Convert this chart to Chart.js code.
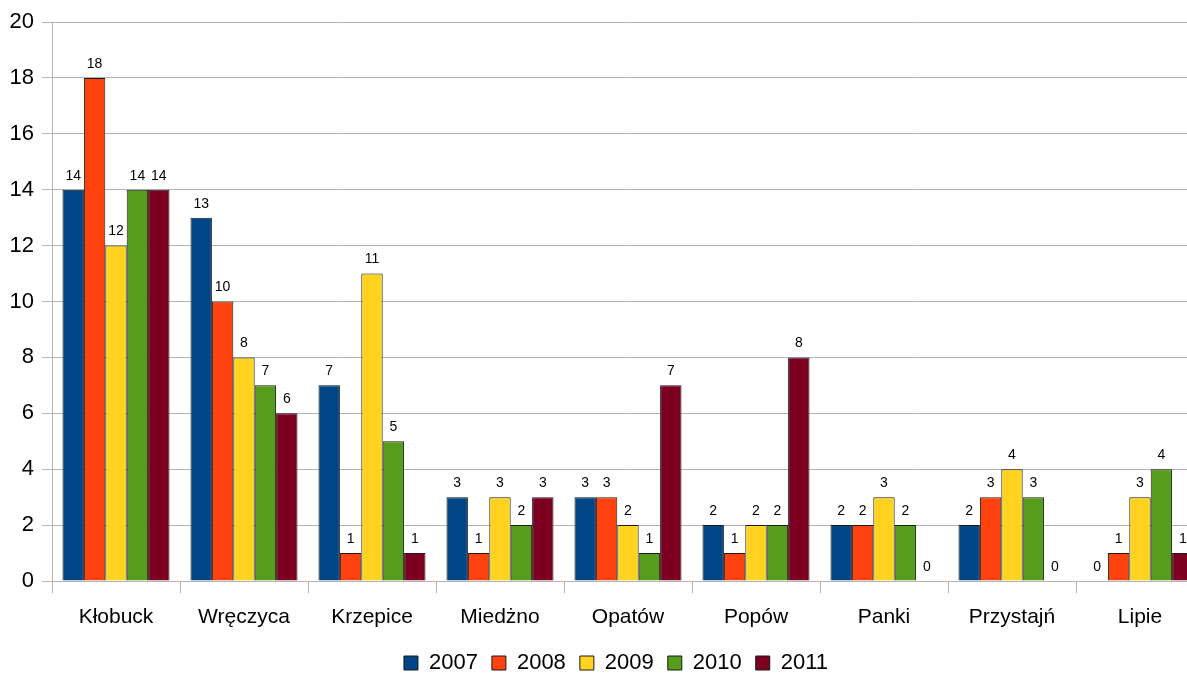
<!DOCTYPE html>
<html>
<head>
<meta charset="utf-8">
<script src="https://cdn.jsdelivr.net/npm/chart.js@4/dist/chart.umd.min.js"></script>
<style>
  html, body { margin: 0; padding: 0; overflow: hidden; background: #fff; }
  #wrap { width: 1232px; height: 684px; }
</style>
</head>
<body>
<div id="wrap"><canvas id="wykres"></canvas></div>
<script>
const gminy = ["Kłobuck", "Wręczyca", "Krzepice", "Miedżno", "Opatów", "Popów", "Panki", "Przystajń", "Lipie"];
const lata = ["2007", "2008", "2009", "2010", "2011"];
const kolory = ["#004586", "#ff420e", "#ffd320", "#579d1c", "#7e0021"];

const dane2007 = [14, 13, 7, 3, 3, 2, 2, 2, 0];
const dane2008 = [18, 10, 1, 1, 3, 1, 2, 3, 1];
const dane2009 = [12, 8, 11, 3, 2, 2, 3, 4, 3];
const dane2010 = [14, 7, 5, 2, 1, 2, 2, 3, 4];
const dane2011 = [14, 6, 1, 3, 7, 8, 0, 0, 1];
const serie = [dane2007, dane2008, dane2009, dane2010, dane2011];

const yTicks = [0, 2, 4, 6, 8, 10, 12, 14, 16, 18, 20];
const szary = "#b3b3b3";
const czcionka = "'Liberation Sans', Arial, sans-serif";

// etykiety z wartościami nad słupkami
const etykiety = {
  id: "etykiety",
  afterDatasetsDraw(chart) {
    const ctx = chart.ctx;
    ctx.save();
    ctx.font = "14px " + czcionka;
    ctx.fillStyle = "#000";
    ctx.textAlign = "center";
    ctx.textBaseline = "bottom";
    chart.data.datasets.forEach((ds, i) => {
      chart.getDatasetMeta(i).data.forEach((bar, j) => {
        ctx.fillText(String(ds.data[j]), bar.x, bar.y - 7);
      });
    });
    ctx.restore();
  }
};

new Chart(document.getElementById("wykres"), {
  type: "bar",
  data: {
    labels: gminy,
    datasets: lata.map((rok, i) => ({
      label: rok,
      data: serie[i],
      backgroundColor: kolory[i],
      borderColor: "#1a1a1a",
      borderWidth: 1,
      borderSkipped: "bottom",
      barPercentage: 1,
      categoryPercentage: 0.836,
    })),
  },
  options: {
    responsive: true,
    maintainAspectRatio: false,
    animation: false,
    layout: { padding: { top: 22, right: 0, bottom: 0, left: 0 } },
    plugins: {
      legend: {
        position: "bottom",
        labels: {
          font: { family: czcionka, size: 22 },
          color: "#000",
          boxWidth: 14,
          boxHeight: 14,
          padding: 14,
        },
      },
      tooltip: { enabled: false },
    },
    scales: {
      x: {
        grid: { drawOnChartArea: false, drawTicks: true, tickLength: 12, color: szary, offset: true },
        border: { color: szary },
        ticks: {
          font: { family: czcionka, size: 21 },
          color: "#000",
          padding: 12,
          maxRotation: 0,
        },
        afterFit(s) { s.height = 57; },
      },
      y: {
        min: 0,
        max: 20,
        afterBuildTicks(s) { s.ticks = yTicks.map(v => ({ value: v })); },
        grid: { color: szary, tickLength: 10 },
        border: { color: szary },
        ticks: {
          font: { family: czcionka, size: 22 },
          color: "#000",
          padding: 8,
        },
        afterFit(s) { s.width = 52; },
      },
      // pusta oś z prawej, tylko żeby zostawić miejsce
      y2: {
        position: "right",
        min: 0,
        max: 20,
        grid: { display: false },
        border: { display: false },
        ticks: { display: false },
        afterFit(s) { s.width = 28; },
      },
    },
  },
  plugins: [etykiety],
});
</script>
</body>
</html>
